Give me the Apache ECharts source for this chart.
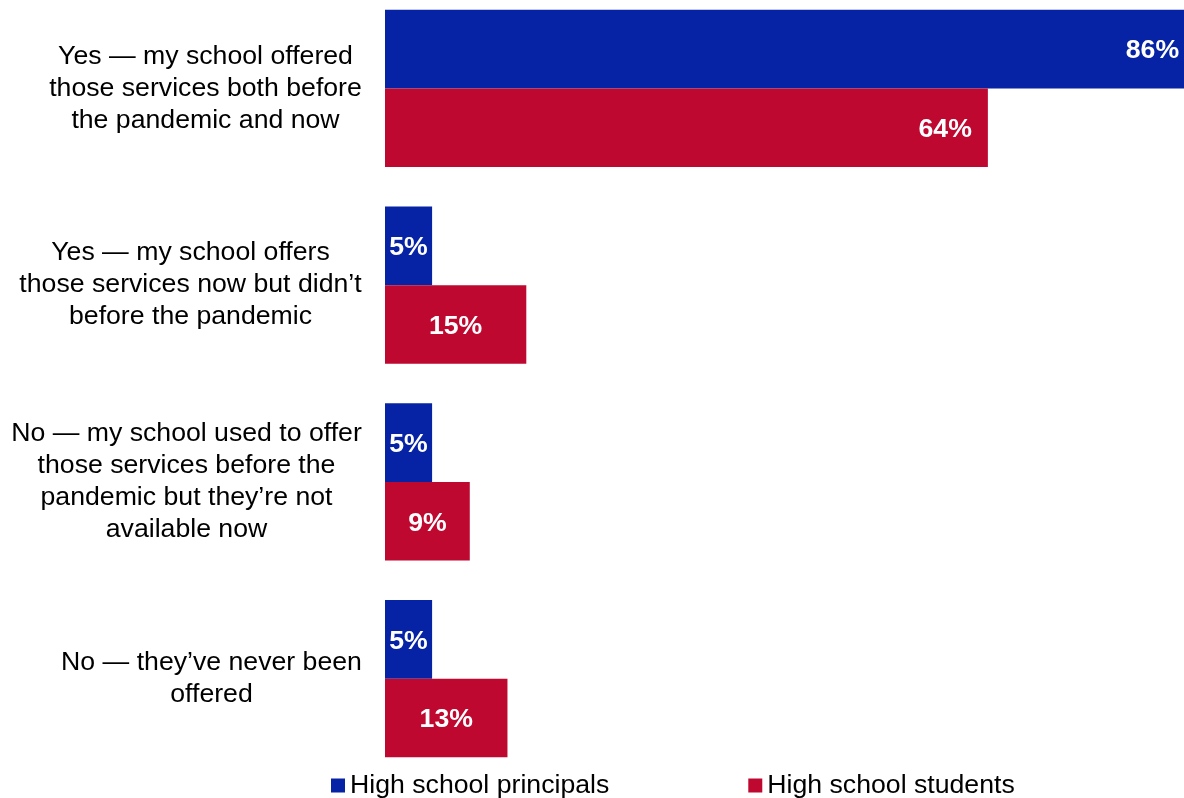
<!DOCTYPE html>
<html><head><meta charset="utf-8">
<script src="https://cdn.jsdelivr.net/npm/echarts@6/dist/echarts.min.js"></script>
<style>html,body{margin:0;padding:0;background:#fff}#c{width:1184px;height:798px}</style>
</head><body><div id="c"></div>
<script>
const categories = [
  "Yes \u2014 my school offered\nthose services both before\nthe pandemic and now",
  "Yes \u2014 my school offers\nthose services now but didn\u2019t\nbefore the pandemic",
  "No \u2014 my school used to offer\nthose services before the\npandemic but they\u2019re not\navailable now",
  "No \u2014 they\u2019ve never been\noffered"
];
const seriesNames = ["High school principals", "High school students"];
const principals = [86, 5, 5, 5];
const students = [64, 15, 9, 13];
const colors = ["#0623A6", "#BE0830"];

const FONT = '"Liberation Sans", Arial, sans-serif';
const FS = 26.67;
const ctx = document.createElement('canvas').getContext('2d');
ctx.font = FS + 'px ' + FONT;
const rich = {};
categories.forEach((c, i) => {
  const w = Math.max(...c.split('\n').map(l => ctx.measureText(l).width));
  rich['r' + i] = {width: Math.ceil(w), align: 'center', fontSize: FS, lineHeight: 32, color: '#000', fontFamily: FONT};
});

function mkData(vals) {
  return vals.map(v => ({
    value: v,
    label: v > 50 ? {position: 'insideRight', distance: 16} : {position: 'inside'}
  }));
}

const chart = echarts.init(document.getElementById('c'), null, {renderer: 'canvas'});
chart.setOption({
  animation: false,
  textStyle: {fontFamily: FONT},
  grid: {left: 385, width: 942, top: -10, height: 787, containLabel: false, outerBoundsMode: 'none'},
  legend: {
    left: 326, top: 767, itemWidth: 14, itemHeight: 14, itemGap: 139,
    icon: 'rect',
    textStyle: {fontSize: FS, color: '#000', fontFamily: FONT},
    data: seriesNames
  },
  xAxis: {type: 'value', min: 0, max: 100, show: false},
  yAxis: {
    type: 'category', inverse: true, data: categories,
    axisLine: {show: false}, axisTick: {show: false},
    axisLabel: {
      margin: 23, align: 'right',
      formatter: (v, i) => v.split('\n').map(l => `{r${i}|${l}}`).join('\n'),
      rich: rich
    }
  },
  series: [principals, students].map((vals, k) => ({
    name: seriesNames[k], type: 'bar', data: mkData(vals),
    barGap: '0%', barCategoryGap: '20%',
    itemStyle: {color: colors[k]},
    label: {show: true, color: '#fff', fontWeight: 'bold', fontSize: FS, fontFamily: FONT, formatter: '{c}%', offset: [0, 2]}
  }))
});
</script></body></html>
